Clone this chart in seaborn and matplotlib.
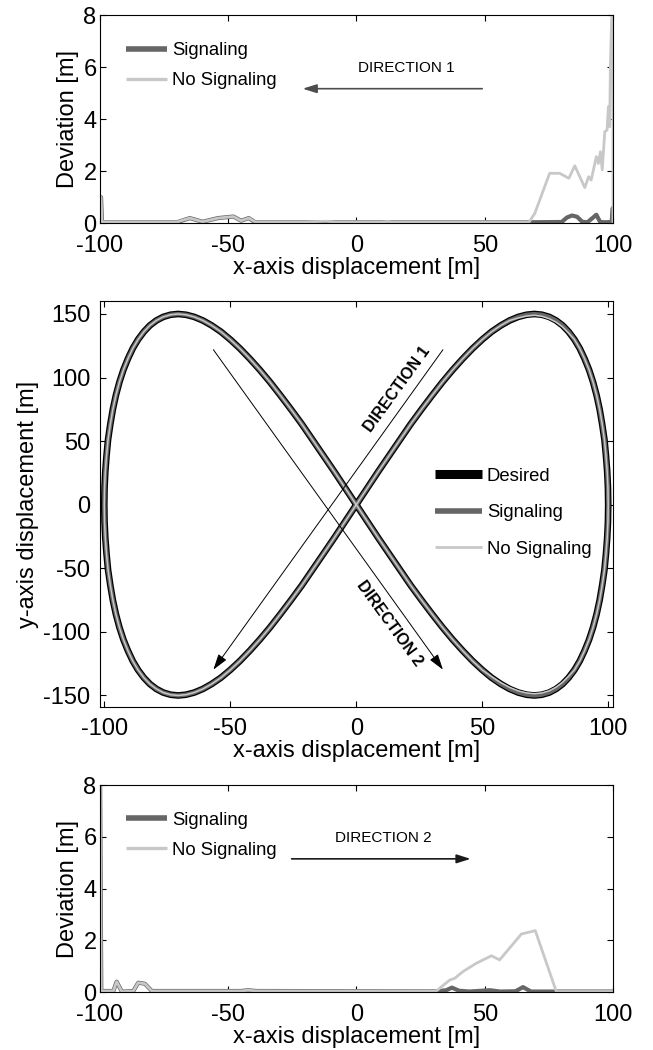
import matplotlib
matplotlib.use("Agg")
import matplotlib.pyplot as plt
import seaborn as sns

# ---------------- data: deviation, direction 1 (top) ----------------
d1_sig_x = [-100, -99.6, -99.2, -70, -65, -60, -54, -48, -45, -42, -39.5, 67, 80, 82, 84, 86, 88, 90, 92, 93.5, 95, 97, 99.5, 99.8, 100]
d1_sig_y = [1.0, 1.0, 0.04, 0.04, 0.2, 0.06, 0.2, 0.26, 0.1, 0.2, 0.04, 0.04, 0.05, 0.22, 0.3, 0.25, 0.06, 0.04, 0.2, 0.33, 0.05, 0.04, 0.05, 0.55, 0.6]
d1_nos_x = [-100, -99.6, -99.2, -70, -65, -60, -54, -48, -45, -42, -39.5, -20, -12, -8, 10, 12, 14, 67.3, 69.5, 75.3, 79.2, 82.8, 85.1,
            89.0, 90.5, 91.5, 93.5, 94.3, 95.1, 95.8, 96.8, 97.7, 98.2, 98.7, 99.0, 99.5, 100, 100]
d1_nos_y = [1.0, 1.0, 0.05, 0.05, 0.2, 0.06, 0.2, 0.26, 0.1, 0.2, 0.05, 0.05, 0.08, 0.05, 0.05, 0.07, 0.05, 0.05, 0.38, 1.92, 1.92, 1.73, 2.21,
            1.37, 1.79, 1.66, 2.56, 2.30, 2.75, 2.05, 3.52, 3.58, 4.48, 3.71, 6.14, 7.93, 9.0, 0.05]

# ---------------- data: deviation, direction 2 (bottom) ----------------
d2_sig_x = [-100, -99.5, -94.8, -93.5, -91.5, -90, -87, -85.1, -82.5, -79.8, -45, -42.3, -39, 31, 35, 37.2, 40, 44, 52, 56, 62, 64.9, 68, 78, 100]
d2_sig_y = [9.0, 0.05, 0.05, 0.41, 0.03, 0.03, 0.05, 0.37, 0.33, 0.05, 0.05, 0.08, 0.05, 0.04, 0.08, 0.18, 0.06, 0.03, 0.08, 0.03, 0.04, 0.2, 0.03, 0.03, 0.03]
d2_nos_x = [-100, -99.5, -94.8, -93.5, -91.5, -90, -87, -85.1, -82.5, -79.8, -45, -42.3, -39, 31.1, 36.3, 38.3, 41.5, 46.7, 52.6, 55.8, 64.3, 69.7, 77.9, 100]
d2_nos_y = [9.0, 0.05, 0.05, 0.41, 0.03, 0.03, 0.05, 0.37, 0.33, 0.05, 0.05, 0.08, 0.05, 0.05, 0.47, 0.54, 0.80, 1.12, 1.41, 1.25, 2.25, 2.38, 0.03, 0.03]

# ---------------- data: trajectories (middle) ----------------
des_x = [0, 4.4, 8.7, 13.1, 17.4, 21.6, 25.9, 30.1, 34.2, 38.3, 42.3, 46.2, 50.0, 53.7, 57.4, 60.9, 64.3, 67.6, 70.7, 73.7, 76.6,
         79.3, 81.9, 84.3, 86.6, 88.7, 90.6, 92.4, 94.0, 95.4, 96.6, 97.6, 98.5, 99.1, 99.6, 99.9, 100.0,
         99.9, 99.6, 99.1, 98.5, 97.6, 96.6, 95.4, 94.0, 92.4, 90.6, 88.7, 86.6, 84.3, 81.9, 79.3, 76.6, 73.7, 70.7, 67.6,
         64.3, 60.9, 57.4, 53.7, 50.0, 46.2, 42.3, 38.3, 34.2, 30.1, 25.9, 21.6, 17.4, 13.1, 8.7, 4.4, 0.0,
         -4.4, -8.7, -13.1, -17.4, -21.6, -25.9, -30.1, -34.2, -38.3, -42.3, -46.2, -50.0, -53.7, -57.4, -60.9, -64.3, -67.6,
         -70.7, -73.7, -76.6, -79.3, -81.9, -84.3, -86.6, -88.7, -90.6, -92.4, -94.0, -95.4, -96.6, -97.6, -98.5, -99.1, -99.6, -99.9, -100.0,
         -99.9, -99.6, -99.1, -98.5, -97.6, -96.6, -95.4, -94.0, -92.4, -90.6, -88.7, -86.6, -84.3, -81.9, -79.3, -76.6, -73.7, -70.7,
         -67.6, -64.3, -60.9, -57.4, -53.7, -50.0, -46.2, -42.3, -38.3, -34.2, -30.1, -25.9, -21.6, -17.4, -13.1, -8.7, -4.4, 0.0]
des_y = [0, 13.1, 26.0, 38.8, 51.3, 63.4, 75.0, 86.0, 96.4, 106.1, 114.9, 122.9, 129.9, 136.0, 141.0, 144.9, 147.7, 149.4, 150.0,
         149.4, 147.7, 144.9, 141.0, 136.0, 129.9, 122.9, 114.9, 106.1, 96.4, 86.0, 75.0, 63.4, 51.3, 38.8, 26.0, 13.1, 0.0,
         -13.1, -26.0, -38.8, -51.3, -63.4, -75.0, -86.0, -96.4, -106.1, -114.9, -122.9, -129.9, -136.0, -141.0, -144.9, -147.7,
         -149.4, -150.0, -149.4, -147.7, -144.9, -141.0, -136.0, -129.9, -122.9, -114.9, -106.1, -96.4, -86.0, -75.0, -63.4,
         -51.3, -38.8, -26.0, -13.1, 0.0,
         13.1, 26.0, 38.8, 51.3, 63.4, 75.0, 86.0, 96.4, 106.1, 114.9, 122.9, 129.9, 136.0, 141.0, 144.9, 147.7, 149.4, 150.0,
         149.4, 147.7, 144.9, 141.0, 136.0, 129.9, 122.9, 114.9, 106.1, 96.4, 86.0, 75.0, 63.4, 51.3, 38.8, 26.0, 13.1, 0.0,
         -13.1, -26.0, -38.8, -51.3, -63.4, -75.0, -86.0, -96.4, -106.1, -114.9, -122.9, -129.9, -136.0, -141.0, -144.9, -147.7,
         -149.4, -150.0, -149.4, -147.7, -144.9, -141.0, -136.0, -129.9, -122.9, -114.9, -106.1, -96.4, -86.0, -75.0, -63.4,
         -51.3, -38.8, -26.0, -13.1, 0.0]
sig_x = list(des_x)
sig_y = list(des_y)
nos_x = list(des_x)
nos_y = [0, 13.1, 26.0, 38.8, 51.3, 63.4, 75.0, 86.0, 96.4, 106.1, 114.9, 122.9, 129.9, 136.0, 141.0, 144.9, 146.9, 148.4, 149.0,
         148.2, 146.3, 143.6, 139.8, 135.0, 129.9, 122.9, 114.9, 106.1, 96.4, 86.0, 75.0, 63.4, 51.3, 38.8, 26.0, 13.1, 0.0,
         -13.1, -26.0, -38.8, -51.3, -63.4, -75.0, -86.0, -96.4, -106.1, -114.9, -122.9, -129.9, -134.9, -139.6, -143.5, -146.3,
         -148.0, -148.6, -148.0, -146.4, -143.7, -140.0, -135.2, -129.9, -122.9, -114.9, -106.1, -96.4, -86.0, -75.0, -63.4,
         -51.3, -38.8, -26.0, -13.1, 0.0,
         13.1, 26.0, 38.8, 51.3, 63.4, 75.0, 86.0, 96.4, 106.1, 114.9, 122.9, 129.9, 136.0, 141.0, 144.9, 147.7, 149.4, 150.0,
         149.4, 147.7, 144.9, 141.0, 136.0, 129.9, 122.9, 114.9, 106.1, 96.4, 86.0, 75.0, 63.4, 51.3, 38.8, 26.0, 13.1, 0.0,
         -13.1, -26.0, -38.8, -51.3, -63.4, -75.0, -86.0, -96.4, -106.1, -114.9, -122.9, -129.9, -136.0, -141.0, -144.9, -147.7,
         -149.4, -150.0, -149.4, -147.7, -144.9, -141.0, -136.0, -129.9, -122.9, -114.9, -106.1, -96.4, -86.0, -75.0, -63.4,
         -51.3, -38.8, -26.0, -13.1, 0.0]

dev_xticks = [-100, -50, 0, 50, 100]
dev_yticks = [0, 2, 4, 6, 8]
mid_xticks = [-100, -50, 0, 50, 100]
mid_yticks = [-150, -100, -50, 0, 50, 100, 150]

SIG_C = "#666666"
NOS_C = "#c8c8c8"

sns.set_theme(style="ticks")
plt.rcParams["font.family"] = ["Liberation Sans", "DejaVu Sans"]
plt.rcParams.update({
    "axes.unicode_minus": False,
    "axes.edgecolor": "black",
    "axes.linewidth": 0.8,
    "xtick.direction": "in", "ytick.direction": "in",
    "xtick.top": True, "ytick.right": True,
    "xtick.bottom": True, "ytick.left": True,
    "xtick.major.size": 4, "ytick.major.size": 4,
    "xtick.major.width": 0.8, "ytick.major.width": 0.8,
    "xtick.color": "black", "ytick.color": "black",
    "xtick.labelsize": 17, "ytick.labelsize": 17,
    "xtick.major.pad": 8.2, "ytick.major.pad": 2.5,
    "axes.labelsize": 17, "axes.labelcolor": "black",
    "text.color": "black",
})

fig = plt.figure(figsize=(6.53, 10.5), dpi=100)

def dev_panel(rect, sx, sy, nx, ny, txt, txt_xy, a_from, a_to, a_col):
    ax = fig.add_axes(rect)
    sns.lineplot(x=sx, y=sy, sort=False, estimator=None, color=SIG_C, lw=3, ax=ax, label="Signaling")
    sns.lineplot(x=nx, y=ny, sort=False, estimator=None, color=NOS_C, lw=2, ax=ax, label="No Signaling")
    ax.set_xlim(-100, 100)
    ax.set_ylim(0, 8)
    ax.set_xticks(dev_xticks)
    ax.set_yticks(dev_yticks)
    ax.set_xlabel("x-axis displacement [m]", labelpad=0)
    ax.set_ylabel("Deviation [m]", labelpad=3)
    leg = ax.legend(loc="center left", bbox_to_anchor=(0.0507, 0.757), frameon=False, fontsize=13.3,
                    handlelength=2.2, handletextpad=0.3, labelspacing=0.7, borderpad=0, borderaxespad=0)
    for ln, w in zip(leg.get_lines(), [4.0, 2.4]):
        ln.set_linewidth(w)
        ln.set_solid_capstyle("butt")
    ax.text(txt_xy[0], txt_xy[1], txt, fontsize=11, ha="center", va="center")
    ax.annotate("", xy=a_to, xytext=a_from,
                arrowprops=dict(arrowstyle="-|>,head_length=0.7,head_width=0.22", lw=1.2, color=a_col,
                                shrinkA=0, shrinkB=0, mutation_scale=12))
    return ax

dev_panel([0.15314, 0.78733, 0.78560, 0.19838], d1_sig_x, d1_sig_y, d1_nos_x, d1_nos_y,
          "DIRECTION 1", (19.4, 5.95), (49.0, 5.17), (-21.0, 5.17), "0.3")
dev_panel([0.15314, 0.05495, 0.78560, 0.19743], d2_sig_x, d2_sig_y, d2_nos_x, d2_nos_y,
          "DIRECTION 2", (10.3, 5.94), (-25.3, 5.15), (44.5, 5.15), "0.1")

ax = fig.add_axes([0.15314, 0.32638, 0.78560, 0.38695])
sns.lineplot(x=des_x, y=des_y, sort=False, estimator=None, color="black", lw=4.8, ax=ax, label="Desired")
sns.lineplot(x=sig_x, y=sig_y, sort=False, estimator=None, color=SIG_C, lw=3.0, ax=ax, label="Signaling")
sns.lineplot(x=nos_x, y=nos_y, sort=False, estimator=None, color=NOS_C, lw=1.1, ax=ax, label="No Signaling")
ax.set_xlim(-101.7, 101.9)
ax.set_ylim(-159.3, 160.2)
ax.set_xticks(mid_xticks)
ax.set_yticks(mid_yticks)
ax.tick_params(axis="y", pad=7)
ax.tick_params(axis="x", pad=7.5)
ax.set_xlabel("x-axis displacement [m]", labelpad=0)
ax.set_ylabel("y-axis displacement [m]", labelpad=3)
leg = ax.legend(loc="center left", bbox_to_anchor=(0.6524, 0.479), frameon=False, fontsize=13.3,
                handlelength=2.55, handletextpad=0.28, labelspacing=1.05, borderpad=0, borderaxespad=0)
for ln, w in zip(leg.get_lines(), [6.5, 4.0, 2.0]):
    ln.set_linewidth(w)
    ln.set_solid_capstyle("butt")

arrow_kw = dict(arrowstyle="-|>,head_length=0.8,head_width=0.25", lw=0.7, color="black",
                shrinkA=0, shrinkB=0, mutation_scale=12)
ax.annotate("", xy=(-56.7, -129.7), xytext=(34.4, 121.9), arrowprops=arrow_kw)
ax.annotate("", xy=(34.4, -129.7), xytext=(-56.7, 121.9), arrowprops=arrow_kw)
ax.text(16.1, 91.2, "DIRECTION 1", fontsize=11.5, fontweight="bold", rotation=54,
        rotation_mode="anchor", ha="center", va="center")
ax.text(13.2, -93.6, "DIRECTION 2", fontsize=11.5, fontweight="bold", rotation=-54,
        rotation_mode="anchor", ha="center", va="center")

fig.savefig("out.png", dpi=100)
